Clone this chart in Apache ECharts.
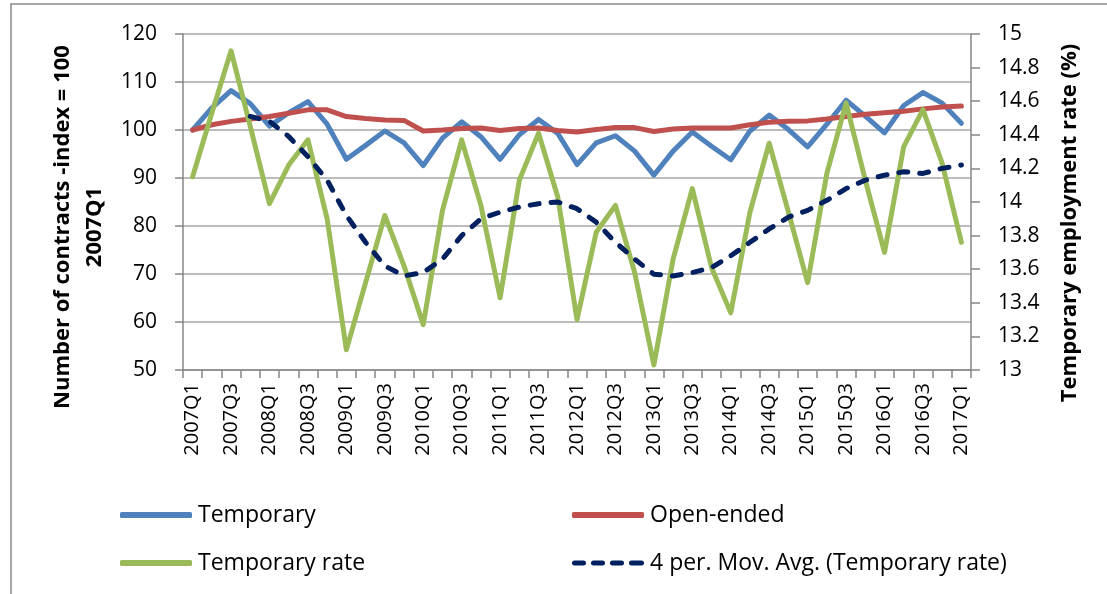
<!DOCTYPE html>
<html>
<head>
<meta charset="utf-8">
<script src="https://cdn.jsdelivr.net/npm/echarts@6/dist/echarts.min.js"></script>
<style>
html,body{margin:0;padding:0;background:#fff;}
#chart{width:1107px;height:594px;}
</style>
</head>
<body>
<div id="chart"></div>
<script>
const categories = (function(){
  const out = [];
  for (let y = 2007; y <= 2017; y++) {
    for (let q = 1; q <= 4; q++) {
      if (y === 2017 && q > 1) break;
      out.push(y + 'Q' + q);
    }
  }
  return out;
})();

const temporary = [100, 104.6, 108.2, 105.5, 100.8, 103.6, 105.9, 101.2, 93.9, 96.8, 99.8, 97.3, 92.6, 98.3, 101.7, 98.6, 93.9, 99.0, 102.2, 99.3, 92.8, 97.3, 98.8, 95.6, 90.6, 95.6, 99.6, 96.6, 93.8, 99.8, 103.1, 100.1, 96.5, 101.2, 106.2, 102.9, 99.4, 105.1, 107.8, 105.6, 101.4];

const openEnded = [100, 101.1, 101.8, 102.3, 102.8, 103.5, 104.2, 104.2, 102.8, 102.4, 102.1, 102.0, 99.8, 100.0, 100.3, 100.4, 99.9, 100.3, 100.4, 99.9, 99.6, 100.1, 100.5, 100.5, 99.7, 100.2, 100.4, 100.4, 100.4, 101.1, 101.6, 101.8, 101.9, 102.3, 102.8, 103.3, 103.6, 103.9, 104.4, 104.8, 105.0];

const temporaryRate = [14.15, 14.53, 14.90, 14.45, 13.99, 14.22, 14.37, 13.90, 13.12, 13.52, 13.92, 13.62, 13.27, 13.95, 14.37, 13.98, 13.43, 14.13, 14.41, 14.03, 13.30, 13.82, 13.98, 13.58, 13.03, 13.66, 14.08, 13.61, 13.34, 13.94, 14.35, 13.94, 13.52, 14.17, 14.59, 14.13, 13.70, 14.33, 14.55, 14.23, 13.76];

const movingAvg = [null, null, null, 14.51, 14.48, 14.39, 14.27, 14.13, 13.92, 13.76, 13.62, 13.56, 13.58, 13.66, 13.80, 13.90, 13.94, 13.97, 13.99, 14.00, 13.96, 13.88, 13.76, 13.66, 13.57, 13.56, 13.58, 13.61, 13.68, 13.76, 13.84, 13.91, 13.95, 14.01, 14.08, 14.13, 14.16, 14.18, 14.17, 14.20, 14.22];

const seriesNames = ['Temporary', 'Open-ended', 'Temporary rate', '4 per. Mov. Avg. (Temporary rate)'];
const leftTitle = 'Number of contracts -index = 100\n2007Q1';
const rightTitle = 'Temporary employment rate (%)';

const FONT = '"Open Sans", "Liberation Sans", sans-serif';
const GRID_COLOR = '#a6a6a6';
const AXIS_COLOR = '#868686';
const DASH_ICON = 'path://M2.5,0h9a2.5,2.5 0 0 1 0,5h-9a2.5,2.5 0 0 1 0,-5z' +
  'M21.5,0h9a2.5,2.5 0 0 1 0,5h-9a2.5,2.5 0 0 1 0,-5z' +
  'M40.5,0h9a2.5,2.5 0 0 1 0,5h-9a2.5,2.5 0 0 1 0,-5z' +
  'M59.5,0h10a2.5,2.5 0 0 1 0,5h-10a2.5,2.5 0 0 1 0,-5z';

function legendAt(name, icon, left, top) {
  return {
    data: [{ name: name, icon: icon }], left: left, top: top, padding: 0,
    itemWidth: 72, itemHeight: 6, itemGap: 0,
    textStyle: { fontFamily: FONT, fontSize: 23, color: '#000', lineHeight: 26, padding: [0,0,0,1] },
    selectedMode: false
  };
}

const chart = echarts.init(document.getElementById('chart'), null, { renderer: 'canvas' });
chart.setOption({
  animation: false,
  backgroundColor: '#fff',
  grid: { left: 183, right: 136, top: 34, bottom: 224, containLabel: false },
  legend: [
    legendAt(seriesNames[0], 'roundRect', 120, 502),
    legendAt(seriesNames[1], 'roundRect', 572, 502),
    legendAt(seriesNames[2], 'roundRect', 120, 550),
    legendAt(seriesNames[3], DASH_ICON, 572, 550)
  ],
  xAxis: {
    type: 'category', data: categories, boundaryGap: true,
    axisLine: { lineStyle: { color: AXIS_COLOR, width: 1.5 } },
    axisTick: { show: true, interval: 0, length: 8, lineStyle: { color: AXIS_COLOR, width: 1.5 } },
    axisLabel: { interval: 1, rotate: 90, margin: 13, fontFamily: FONT, fontSize: 20, color: '#000' },
    splitLine: { show: false }
  },
  yAxis: [
    {
      type: 'value', min: 50, max: 120, interval: 10, position: 'left',
      axisLine: { show: true, lineStyle: { color: AXIS_COLOR, width: 1.5 } },
      axisTick: { show: true, length: 8, lineStyle: { color: AXIS_COLOR, width: 1.5 } },
      axisLabel: { margin: 26, fontFamily: FONT, fontSize: 21, color: '#000' },
      splitLine: { show: true, lineStyle: { color: GRID_COLOR, width: 1.5 } }
    },
    {
      type: 'value', min: 13, max: 15, interval: 0.2, position: 'right',
      axisLine: { show: true, lineStyle: { color: AXIS_COLOR, width: 1.5 } },
      axisTick: { show: true, length: 9, lineStyle: { color: AXIS_COLOR, width: 1.5 } },
      axisLabel: { margin: 27, fontFamily: FONT, fontSize: 21, color: '#000',
        formatter: function (v) { return String(Math.round(v * 10) / 10); } },
      splitLine: { show: false }
    }
  ],
  series: [
    { name: seriesNames[0], type: 'line', data: temporary, yAxisIndex: 0, symbol: 'none',
      lineStyle: { color: '#4f81bd', width: 5, cap: 'round', join: 'round' }, itemStyle: { color: '#4f81bd' } },
    { name: seriesNames[1], type: 'line', data: openEnded, yAxisIndex: 0, symbol: 'none',
      lineStyle: { color: '#c0504d', width: 5, cap: 'round', join: 'round' }, itemStyle: { color: '#c0504d' } },
    { name: seriesNames[2], type: 'line', data: temporaryRate, yAxisIndex: 1, symbol: 'none',
      lineStyle: { color: '#9bbb59', width: 5, cap: 'round', join: 'round' }, itemStyle: { color: '#9bbb59' } },
    { name: seriesNames[3], type: 'line', data: movingAvg, yAxisIndex: 1, symbol: 'none', connectNulls: false,
      lineStyle: { color: '#002060', width: 5, type: [9, 12], cap: 'round', join: 'round' }, itemStyle: { color: '#002060' } }
  ],
  graphic: [
    { type: 'polyline', silent: true, shape: { points: [[11, 594], [11, 4], [1107, 4]] },
      style: { stroke: '#898989', lineWidth: 1.5, fill: null } },
    { type: 'text', x: 79, y: 227, rotation: Math.PI / 2,
      style: { text: leftTitle, font: 'bold 22px ' + FONT, fill: '#000', align: 'center', verticalAlign: 'middle', lineHeight: 32 } },
    { type: 'text', x: 1070, y: 223, rotation: Math.PI / 2,
      style: { text: rightTitle, font: 'bold 22px ' + FONT, fill: '#000', align: 'center', verticalAlign: 'middle' } }
  ]
});
</script>
</body>
</html>
